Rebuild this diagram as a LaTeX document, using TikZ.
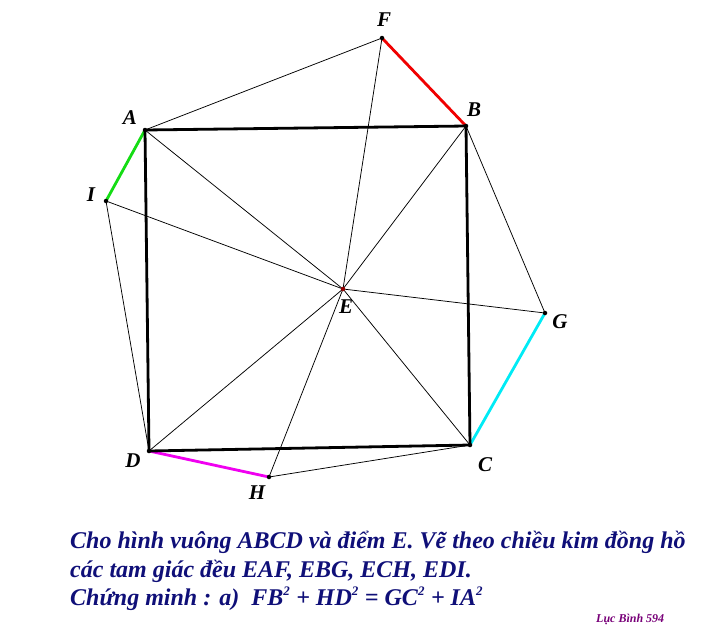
\documentclass[tikz,border=0pt]{standalone}
\usepackage{fontspec}
\setmainfont{Liberation Serif}
\definecolor{txtblue}{RGB}{15,15,120}
\definecolor{sig}{RGB}{120,0,120}
\definecolor{edot}{RGB}{150,0,0}
\definecolor{cred}{RGB}{240,0,0}
\definecolor{ccyan}{RGB}{0,235,245}
\definecolor{cmag}{RGB}{240,0,240}
\definecolor{cgreen}{RGB}{20,220,20}
\newcommand{\sq}{\textsuperscript{\fontsize{13}{13}\selectfont 2}}
\begin{document}
\begin{tikzpicture}[x=1pt,y=-1pt,
  thin line/.style={line width=0.75pt,black},
  side/.style={line width=2.8pt,black,line cap=round},
  col/.style={line width=2.8pt,line cap=round},
  lbl/.style={font=\fontsize{21}{21}\selectfont\bfseries\itshape},
  pt/.style={circle,fill=black,inner sep=0pt,minimum size=4.5pt},
  txt/.style={font=\fontsize{24}{24}\selectfont\bfseries\itshape,text=txtblue,anchor=base west,inner sep=0pt}]
\useasboundingbox (0,0) rectangle (703,635);
\coordinate (A) at (145,130);
\coordinate (B) at (466,126);
\coordinate (C) at (470,445);
\coordinate (D) at (149,451);
\coordinate (E) at (343,289);
\coordinate (F) at (382,38);
\coordinate (G) at (545,313);
\coordinate (H) at (269,477);
\coordinate (I) at (106,201);
% spokes and triangle sides
\foreach \p in {A,B,C,D,F,G,H,I} \draw[thin line] (E) -- (\p);
\draw[thin line] (A) -- (F);
\draw[thin line] (B) -- (G);
\draw[thin line] (C) -- (H);
\draw[thin line] (D) -- (I);
% colored segments
\draw[col,cred] (F) -- (B);
\draw[col,ccyan] (G) -- (C);
\draw[col,cmag] (H) -- (D);
\draw[col,cgreen] (I) -- (A);
% square
\draw[side,line join=miter] (A) -- (B) -- (C) -- (D) -- cycle;
% points
\foreach \p in {A,B,C,D,F,G,H,I} \node[pt] (p\p) at (\p) {};
\node[pt,fill=edot] (pE) at (E) {};
% labels
\node[lbl] (lA) at (130,118) {A};
\node[lbl] (lB) at (474,110) {B};
\node[lbl] (lC) at (485,465) {C};
\node[lbl] (lD) at (133,461) {D};
\node[lbl] (lE) at (346,307) {E};
\node[lbl] (lF) at (384,20) {F};
\node[lbl] (lG) at (560,322) {G};
\node[lbl] (lH) at (257,493) {H};
\node[lbl] (lI) at (91,195) {I};
% text
\node[txt] (t1) at (70,548) {Cho hình vuông ABCD và điểm E. Vẽ theo chiều kim đồng hồ};
\node[txt] (t2) at (70,577) {các tam giác đều EAF, EBG, ECH, EDI.};
\node[txt] (t3) at (70,605) {Chứng minh : a)\ \ FB\sq{} + HD\sq{} = GC\sq{} + IA\sq};
\node[font=\fontsize{12}{12}\selectfont\bfseries\itshape,text=sig,anchor=base west,inner sep=0pt] (sg) at (596,622) {Lục Bình 594};
\end{tikzpicture}
\end{document}
